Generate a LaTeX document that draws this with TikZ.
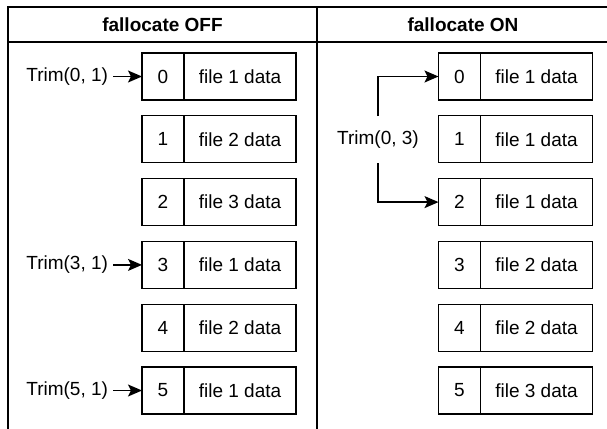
\documentclass[tikz,border=0pt]{standalone}
\usepackage{fontspec}
\setmainfont{Liberation Sans}
\usetikzlibrary{positioning,arrows.meta}
\tikzset{
    index-cell/.style = {draw, rectangle, minimum width=21pt, minimum height=23.5pt, inner sep=0pt, outer sep=0pt},
    data-cell/.style = {draw, rectangle, minimum width=56pt, minimum height=23.5pt, inner sep=0pt, outer sep=0pt},
    trim-label/.style = {rectangle, minimum height=23.5pt, inner xsep=2.5pt, inner ysep=0pt, outer sep=0pt},
    head-label/.style = {font=\fontsize{9.5}{11}\selectfont\bfseries},
    trim-arrow/.style = {-{Stealth[length=7pt, width=6pt, inset=1.5pt]}},
}

\begin{document}
\begin{tikzpicture}[x=0.5pt, y=-0.5pt, line width=0.65pt, font=\fontsize{9.5}{11}\selectfont]
\useasboundingbox (0,0) rectangle (607,429);
\clip (0,0) rectangle (607,429);
% table frame, header row and column divider
\draw (8,440) -- (8,7) -- (620,7);
\draw (8,42) -- (620,42);
\draw (317,7) -- (317,440);
\node[head-label] (off) at (162.5,25) {fallocate OFF};
\node[head-label] (on) at (463,25) {fallocate ON};

% blocks without fallocate
\foreach \i/\f in {0/1,1/2,2/3,3/1,4/2,5/1} {
    \node[index-cell] (l\i) at (163,76.5+62.8*\i) {\i};
    \node[data-cell, right=0pt of l\i] (ld\i) {file \f\ data};
}
\foreach \i in {0,3,5} {
    \node[trim-label, left=14.5pt of l\i] (tl\i) {Trim(\i, 1)};
    \draw[trim-arrow] (tl\i) -- (l\i);
}

% blocks with fallocate
\foreach \i/\f in {0/1,1/1,2/1,3/2,4/2,5/3} {
    \node[index-cell] (r\i) at (459.5,76.5+62.8*\i) {\i};
    \node[data-cell, right=0pt of r\i] (rd\i) {file \f\ data};
}
\node[trim-label] (tr) at (378,139.5) {Trim(0, 3)};
\draw[trim-arrow] (tr.north) |- (r0);
\draw[trim-arrow] (tr.south) |- (r2);
\end{tikzpicture}
\end{document}
